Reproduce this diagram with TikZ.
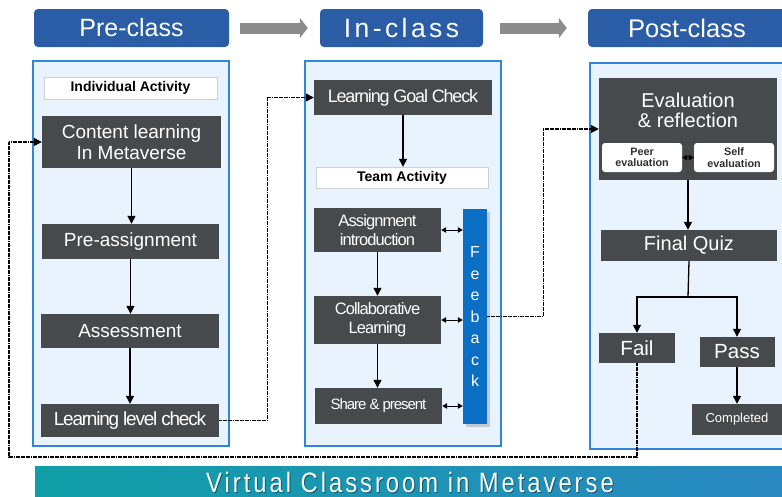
\documentclass[tikz,border=0pt]{standalone}
\usepackage{fontspec}
\setmainfont{Liberation Sans}
\usetikzlibrary{arrows.meta,shadows}
\definecolor{hdrb}{HTML}{2B5DA6}
\definecolor{pnl}{HTML}{E8F3FD}
\definecolor{pnlb}{HTML}{2E86D4}
\definecolor{dkg}{HTML}{474A4C}
\definecolor{fbc}{HTML}{0B6FC6}
\definecolor{garrc}{HTML}{8C8C8C}
\definecolor{lblg}{HTML}{D0D0D0}
\definecolor{bnl}{HTML}{109FA6}
\definecolor{bnr}{HTML}{2A88C2}
\definecolor{evtxt}{HTML}{2F2F2F}
\tikzset{
 dk/.style={fill=dkg, text=white, inner sep=0pt, align=center},
 lbl/.style={fill=white, draw=lblg, inner sep=0pt, font=\fontsize{14}{16}\selectfont\bfseries, text=black},
 panel/.style={fill=pnl, draw=pnlb, line width=1.2pt, inner sep=0pt},
 hdr/.style={fill=hdrb, rounded corners=4pt, text=white, inner sep=0pt},
 arr/.style={line width=1.3pt, -{Triangle[width=8pt,length=8pt]}},
 dbl/.style={line width=1pt, {Triangle[width=5.5pt,length=5pt]}-{Triangle[width=5.5pt,length=5pt]}},
 lp/.style={line width=1.2pt, dash pattern=on 1.3pt off 0.4pt},
 garr/.style={draw=garrc, line width=11pt, -{Triangle[width=20pt,length=8pt]}},
 evbox/.style={fill=white, rounded corners=3pt, inner sep=0pt, align=center, text=evtxt, font=\fontsize{10.8}{11.5}\selectfont\bfseries},
}
\begin{document}
\begin{tikzpicture}[x=1pt,y=-1pt]
\useasboundingbox (0,0) rectangle (782,496);
% headers
\node[hdr, minimum width=195pt, minimum height=38pt, font=\fontsize{25}{28}\selectfont] (prehdr) at (131.5,28) {Pre-class};
\node[hdr, minimum width=163pt, minimum height=38pt, font=\fontsize{26.5}{28}\selectfont\addfontfeature{LetterSpace=13}] (inhdr) at (401.5,28) {In-class};
\node[hdr, minimum width=198pt, minimum height=38pt, font=\fontsize{25.5}{28}\selectfont] (posthdr) at (687,28) {Post-class};
\draw[garr, shorten <=11pt, shorten >=12pt] (prehdr.east) -- (inhdr.west);
\draw[garr, shorten <=17pt, shorten >=21pt] (inhdr.east) -- (posthdr.west);
% panels
\node[panel, minimum width=196pt, minimum height=385pt] (prepnl) at (131,253.5) {};
\node[panel, minimum width=196pt, minimum height=385pt] (inpnl) at (403,253.5) {};
\node[panel, minimum width=210pt, minimum height=386pt] (postpnl) at (695,256) {};
% pre-class
\node[lbl, minimum width=173pt, minimum height=22pt] (ia) at (130.5,88) {Individual Activity};
\node[dk, minimum width=179pt, minimum height=52pt, font=\fontsize{19}{20.5}\selectfont] (cl) at (131.5,142) {Content learning\\In Metaverse};
\node[dk, minimum width=177pt, minimum height=35pt, font=\fontsize{19}{21}\selectfont] (pa) at (130.5,241.5) {Pre-assignment};
\node[dk, minimum width=178pt, minimum height=34pt, font=\fontsize{19}{21}\selectfont] (as) at (130,331) {Assessment};
\node[dk, minimum width=178pt, minimum height=33pt, font=\fontsize{19}{21}\selectfont\addfontfeature{LetterSpace=-6.5}] (llc) at (130,420.5) {Learning level check};
\draw[arr] (cl.south) -- (cl.south |- pa.north);
\draw[arr] (pa.south) -- (pa.south |- as.north);
\draw[arr] (as.south) -- (as.south |- llc.north);
% in-class
\node[dk, minimum width=178pt, minimum height=35pt, font=\fontsize{18}{20}\selectfont\addfontfeature{LetterSpace=-6.5}] (lgc) at (403,97.5) {Learning Goal Check};
\node[lbl, minimum width=172pt, minimum height=21pt] (ta) at (402,177.5) {Team Activity};
\node[dk, minimum width=127pt, minimum height=44pt, font=\fontsize{16.5}{19}\selectfont\addfontfeature{LetterSpace=-5.5}] (ai) at (377.5,230) {Assignment\\introduction};
\node[dk, minimum width=127pt, minimum height=48pt, font=\fontsize{16.5}{19}\selectfont\addfontfeature{LetterSpace=-5.5}] (col) at (377.5,320) {Collaborative\\Learning};
\node[dk, minimum width=127pt, minimum height=36pt, font=\fontsize{15}{17}\selectfont\addfontfeature{LetterSpace=-7}] (sp) at (378.5,406) {Share \& present};
\node[fill=fbc, text=white, inner sep=0pt, align=center, minimum width=24pt, minimum height=215pt, drop shadow={shadow xshift=3pt, shadow yshift=-3pt, opacity=0.35}, font=\fontsize{16}{21.5}\selectfont] (fb) at (475,316.5) {F\\e\\e\\b\\a\\c\\k};
\draw[arr] (lgc.south) -- (lgc.south |- ta.north);
\draw[arr] (ai.south) -- (ai.south |- col.north);
\draw[arr] (col.south) -- (col.south |- sp.north);
\draw[dbl] (ai.east) -- (ai.east -| fb.west);
\draw[dbl] (col.east) -- (col.east -| fb.west);
\draw[dbl] (sp.east) -- (sp.east -| fb.west);
% post-class
\node[dk, minimum width=178pt, minimum height=102pt] (ev) at (688,129) {};
\node[text=white, align=center, inner sep=0pt, font=\fontsize{20}{20}\selectfont] (evt) at (688,110) {Evaluation\\\& reflection};
\node[evbox, minimum width=80pt, minimum height=29pt] (peer) at (642,157.5) {Peer\\evaluation};
\node[evbox, minimum width=80pt, minimum height=29pt] (self) at (734,157.5) {Self\\evaluation};
\draw[dbl] (peer.east) -- (self.west);
\node[dk, minimum width=176pt, minimum height=31pt, font=\fontsize{20}{22}\selectfont] (fq) at (689,245.5) {Final Quiz};
\node[dk, minimum width=76pt, minimum height=30pt, font=\fontsize{20.5}{22}\selectfont] (fail) at (637,348) {Fail};
\node[dk, minimum width=75pt, minimum height=30pt, font=\fontsize{20.5}{22}\selectfont] (pass) at (737,352) {Pass};
\node[dk, minimum width=90pt, minimum height=31pt, font=\fontsize{13}{15}\selectfont] (comp) at (737,419.5) {Completed};
\draw[arr] (ev.south) -- (ev.south |- fq.north);
\draw[line width=1.3pt] (fq.south) -- (688,297) coordinate (br);
\draw[arr] (br) -| (fail.north);
\draw[arr] (br) -| (pass.north);
\draw[arr] (pass.south) -- (pass.south |- comp.north);
% loops
\draw[lp, arr] (llc.east) -- ++(48,0) |- (lgc.west);
\draw[lp, arr] (fb.east) -- ++(56,0) |- (ev.west);
\coordinate (lb) at (9,457);
\draw[lp, arr] (fail.south) |- (lb) |- (cl.west);
% banner
\node[left color=bnl, right color=bnr, inner sep=0pt, minimum width=760pt, minimum height=38pt] (banner) at (415,485) {};
\node[text=black, opacity=0.4, inner sep=0pt, anchor=base, font=\fontsize{28}{30}\selectfont] at (411,493) {\scalebox{0.85}[1]{\addfontfeature{LetterSpace=12.5}Virtual Classroom in Metaverse}};
\node[text=white, inner sep=0pt, anchor=base, font=\fontsize{28}{30}\selectfont] (bt) at (410,492) {\scalebox{0.85}[1]{\addfontfeature{LetterSpace=12.5}Virtual Classroom in Metaverse}};
\end{tikzpicture}
\end{document}
